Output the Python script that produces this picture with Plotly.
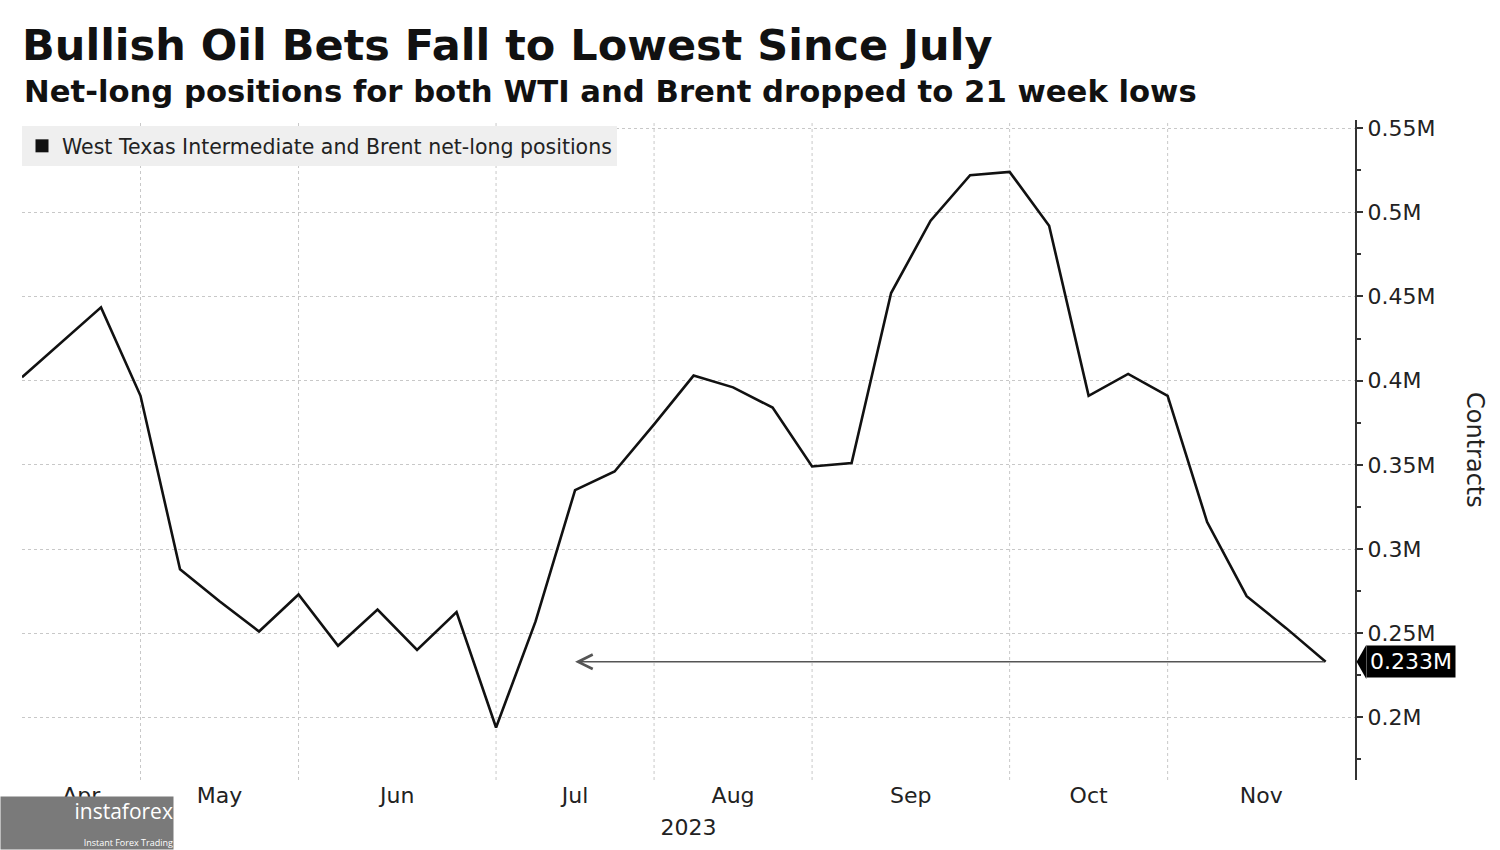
import pandas as pd
import plotly.graph_objects as go

# weekly net-long positions (million contracts), WTI + Brent
dates = pd.date_range("2023-04-11", "2023-11-28", freq="7D")
net_long = [0.402, 0.423, 0.4435, 0.391, 0.288, 0.269, 0.251, 0.273, 0.2425,
            0.264, 0.240, 0.2625, 0.194, 0.257, 0.335, 0.346, 0.374, 0.403,
            0.396, 0.384, 0.349, 0.351, 0.452, 0.495, 0.522, 0.524, 0.492,
            0.391, 0.404, 0.391, 0.316, 0.272, 0.253, 0.233]

months = ["Apr", "May", "Jun", "Jul", "Aug", "Sep", "Oct", "Nov"]
# month gridlines sit on the weekly point nearest the start of each month
month_grid = pd.to_datetime(["2023-05-02", "2023-05-30", "2023-07-04",
                             "2023-08-01", "2023-08-29", "2023-10-03",
                             "2023-10-31"])
arrow_back_to = pd.Timestamp("2023-07-18")
last_val = net_long[-1]

x0 = dates[0]
x1 = dates[-1] + pd.Timedelta(days=5.2)
y0, y1 = 0.1628, 0.5548

bounds = [x0] + list(month_grid) + [x1]
month_mid = [a + (b - a) / 2 for a, b in zip(bounds[:-1], bounds[1:])]

FONT = "DejaVu Sans"

fig = go.Figure()
fig.add_trace(go.Scatter(x=dates, y=net_long, mode="lines",
                         line=dict(color="#111111", width=2.6),
                         showlegend=False, hoverinfo="x+y"))
# legend entry drawn as a square like the original
fig.add_trace(go.Scatter(x=[None], y=[None], mode="markers",
                         marker=dict(symbol="square", size=13, color="#111111"),
                         name="West Texas Intermediate and Brent net-long positions"))

for d in month_grid:
    fig.add_vline(x=d, line=dict(color="#c8c8c8", width=1, dash="dot"),
                  layer="below")

# arrow back to July at the latest level
fig.add_annotation(x=arrow_back_to, y=last_val, ax=dates[-1], ay=last_val,
                   xref="x", yref="y", axref="x", ayref="y", text="",
                   showarrow=True, arrowhead=5, arrowsize=1.9,
                   arrowwidth=1.5, arrowcolor="#555555")

# last value tag on the axis
fig.add_shape(type="path", xref="paper", yref="y",
              path=f"M 1.0012 {last_val} L 1.0085 {last_val + 0.0102} "
                   f"L 1.0085 {last_val - 0.0102} Z",
              fillcolor="black", line=dict(width=0))
fig.add_annotation(x=1.0085, y=last_val, xref="paper", yref="y",
                   text="0.233M", showarrow=False, xanchor="left",
                   bgcolor="black", borderpad=3,
                   font=dict(family=FONT, size=22, color="white"))

fig.add_annotation(x=1.0, y=0.5, xref="paper", yref="paper",
                   text="Contracts", showarrow=False, textangle=90,
                   xshift=136, font=dict(family=FONT, size=24, color="#222222"))

fig.add_annotation(x=0, y=0, xref="paper", yref="paper", xanchor="left",
                   yanchor="bottom", xshift=-22, yshift=-70,
                   width=172, align="right",
                   text="instaforex<br><span style='font-size:9px'>Instant Forex Trading</span>",
                   showarrow=False, bgcolor="#7a7a7a", borderpad=0,
                   font=dict(family="Open Sans", size=21, color="white"))

fig.add_annotation(x=0, y=1, xref="paper", yref="paper", xanchor="left",
                   yanchor="middle", yshift=29, showarrow=False,
                   text="<b>Net-long positions for both WTI and Brent dropped to 21 week lows</b>",
                   font=dict(family=FONT, size=30.7, color="#111111"))

fig.update_layout(
    width=1500, height=850,
    paper_bgcolor="white", plot_bgcolor="white",
    margin=dict(l=22, r=145, t=120, b=70),
    font=dict(family=FONT, color="#222222"),
    title=dict(
        text="<b>Bullish Oil Bets Fall to Lowest Since July</b>",
        x=22 / 1500, xanchor="left", xref="container",
        y=1 - 45 / 850, yanchor="middle", yref="container",
        font=dict(family=FONT, size=43, color="#111111")),
    legend=dict(x=0, y=1 - 6 / 660, xanchor="left", yanchor="top",
                bgcolor="#efefef", font=dict(family=FONT, size=20.5),
                borderwidth=0),
    xaxis=dict(type="date", range=[x0, x1], tickvals=month_mid,
               ticktext=months, showgrid=False, ticks="", showline=False,
               zeroline=False, tickfont=dict(family=FONT, size=22),
               title=dict(text="2023", standoff=12,
                          font=dict(family=FONT, size=22))),
    yaxis=dict(side="right", range=[y0, y1], tick0=0.2, dtick=0.05,
               ticksuffix="M", showgrid=True, gridcolor="#c8c8c8",
               griddash="dot", gridwidth=1, showline=True, linecolor="#333333",
               linewidth=2, ticks="outside", ticklen=6, tickwidth=2,
               tickcolor="#333333", zeroline=False,
               tickfont=dict(family=FONT, size=22),
               minor=dict(dtick=0.025, tick0=0.2, ticks="outside", ticklen=4,
                          tickcolor="#333333", showgrid=False)),
)

fig.write_html("out.html", config={"displayModeBar": False},
               post_script="document.body.style.margin='0';")
